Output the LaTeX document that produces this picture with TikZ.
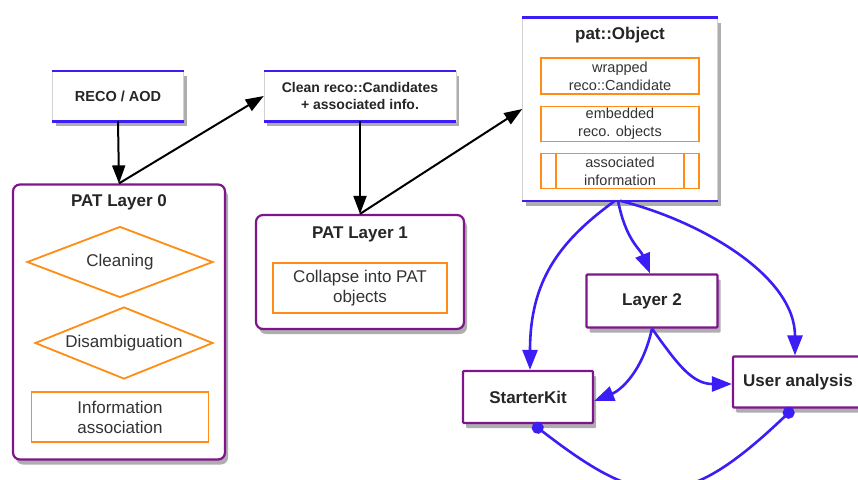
\documentclass[tikz,border=0pt]{standalone}
\usepackage{fontspec}
\setmainfont{Liberation Sans}
\usetikzlibrary{arrows.meta,shapes.geometric,shadows}
\definecolor{patblue}{RGB}{58,30,245}
\definecolor{patpurple}{RGB}{128,20,140}
\definecolor{patorange}{RGB}{255,140,20}
\begin{document}
\begin{tikzpicture}[x=1pt, y=-1pt,
    bigfont/.style={font=\fontsize{17}{20}\selectfont},
    boldfont/.style={font=\fontsize{17}{20}\selectfont\bfseries},
    smallfont/.style={font=\fontsize{14.5}{18}\selectfont},
    boxshadow/.style={drop shadow={shadow xshift=3pt, shadow yshift=-5pt, opacity=0.45, fill=black!70}},
    databox/.style={draw=gray!35, line width=0.5pt, fill=white, inner sep=0pt, align=center, boxshadow, text=black!85},
    bluebar/.style={draw=patblue, line width=2.5pt},
    layerbox/.style={draw=patpurple, line width=2.2pt, fill=white, rounded corners=7pt, inner sep=0pt, boxshadow},
    outbox/.style={draw=patpurple, line width=2.2pt, fill=white, rounded corners=1pt, inner sep=0pt, boxshadow, boldfont, text=black!85},
    stepbox/.style={draw=patorange, line width=1.8pt, inner sep=0pt, align=center, bigfont, text=black!80},
    stepdiamond/.style={stepbox, shape=diamond, aspect=2.6},
    subbox/.style={draw=patorange, line width=1.8pt, inner sep=0pt, align=center, smallfont, text=black!80, minimum width=158pt},
    flow/.style={draw=black, line width=2pt, -{Triangle[length=18pt,width=13pt]}},
    bflow/.style={draw=patblue, line width=2.6pt, -{Triangle[length=20pt,width=15pt]}},
    dotline/.style={draw=patblue, line width=2.6pt, {Circle[length=12pt]}-{Circle[length=12pt]}}
  ]
  \useasboundingbox (0,0) rectangle (858,479);

  % input side
  \node[databox, minimum width=131pt, minimum height=50pt, font=\fontsize{14.5}{17}\selectfont\bfseries] (reco) at (118,96) {RECO / AOD};
  \node[databox, minimum width=192pt, minimum height=50pt, font=\fontsize{14}{17}\selectfont\bfseries] (clean) at (360,96) {Clean reco::Candidates\\+ associated info.};
  \node[databox, minimum width=195pt, minimum height=183pt] (patobj) at (620,109) {};
  \foreach \n in {reco, clean, patobj} {
    \draw[bluebar] (\n.north west) -- (\n.north east);
    \draw[bluebar] (\n.south west) -- (\n.south east);
  }
  \node[boldfont, text=black!85] (objtitle) at (620,35) {pat::Object};
  \node[subbox, minimum height=36pt] (wrapped) at (620,76) {wrapped\\reco::Candidate};
  \node[subbox, minimum height=35pt] (embedded) at (620,124) {embedded\\reco. objects};
  \node[subbox, minimum height=35pt] (assoc) at (620,171) {associated\\information};
  \draw[patorange, line width=1.8pt] ([xshift=16pt]assoc.north west) -- ([xshift=16pt]assoc.south west);
  \draw[patorange, line width=1.8pt] ([xshift=-16pt]assoc.north east) -- ([xshift=-16pt]assoc.south east);

  % layer 0
  \node[layerbox, minimum width=212pt, minimum height=275pt] (layer0) at (119,322) {};
  \node[boldfont, text=black!85] (l0title) at (119,202) {PAT Layer 0};
  \node[stepdiamond, minimum width=186pt, minimum height=71pt] (cleaning) at (120,262) {Cleaning};
  \node[stepdiamond, minimum width=178pt, minimum height=72pt] (disamb) at (124,343) {Disambiguation};
  \node[stepbox, minimum width=177pt, minimum height=50pt] (info) at (120,417) {Information\\association};

  % layer 1
  \node[layerbox, minimum width=208pt, minimum height=114pt] (layer1) at (360,272) {};
  \node[boldfont, text=black!85] (l1title) at (360,234) {PAT Layer 1};
  \node[stepbox, minimum width=174pt, minimum height=50pt] (collapse) at (360,288) {Collapse into PAT\\objects};

  % output side
  \node[outbox, minimum width=131pt, minimum height=53pt] (layer2) at (652,301) {Layer 2};
  \node[outbox, minimum width=130pt, minimum height=52pt] (starter) at (528,397) {StarterKit};
  \node[outbox, minimum width=130pt, minimum height=51pt] (user) at (798,382) {User analysis};

  \draw[flow] (reco.south) -- (layer0.north);
  \draw[flow] (layer0.north) -- (clean.west);
  \draw[flow] (clean.south) -- (layer1.north);
  \draw[flow] (layer1.north) -- (patobj.west);

  \draw[bflow] ([xshift=-5pt]patobj.south) .. controls +(-55,40) and +(0,-90) .. ([xshift=2pt]starter.north);
  \draw[bflow] ([xshift=-2pt]patobj.south) .. controls +(8,40) and +(-10,-25) .. ([xshift=-2pt]layer2.north);
  \draw[bflow] (patobj.south) .. controls +(80,20) and +(0,-80) .. ([xshift=-3pt]user.north);
  \draw[bflow] (layer2.south) .. controls +(-10,45) and +(25,-10) .. ([yshift=-4pt]starter.east);
  \draw[bflow] (layer2.south) .. controls +(25,35) and +(-40,0) .. ([yshift=-2pt]user.west);
  \draw[dotline] ([xshift=5pt]starter.south) .. controls +(110,85) and +(-110,105) .. ([xshift=-5pt]user.south);
\end{tikzpicture}
\end{document}
